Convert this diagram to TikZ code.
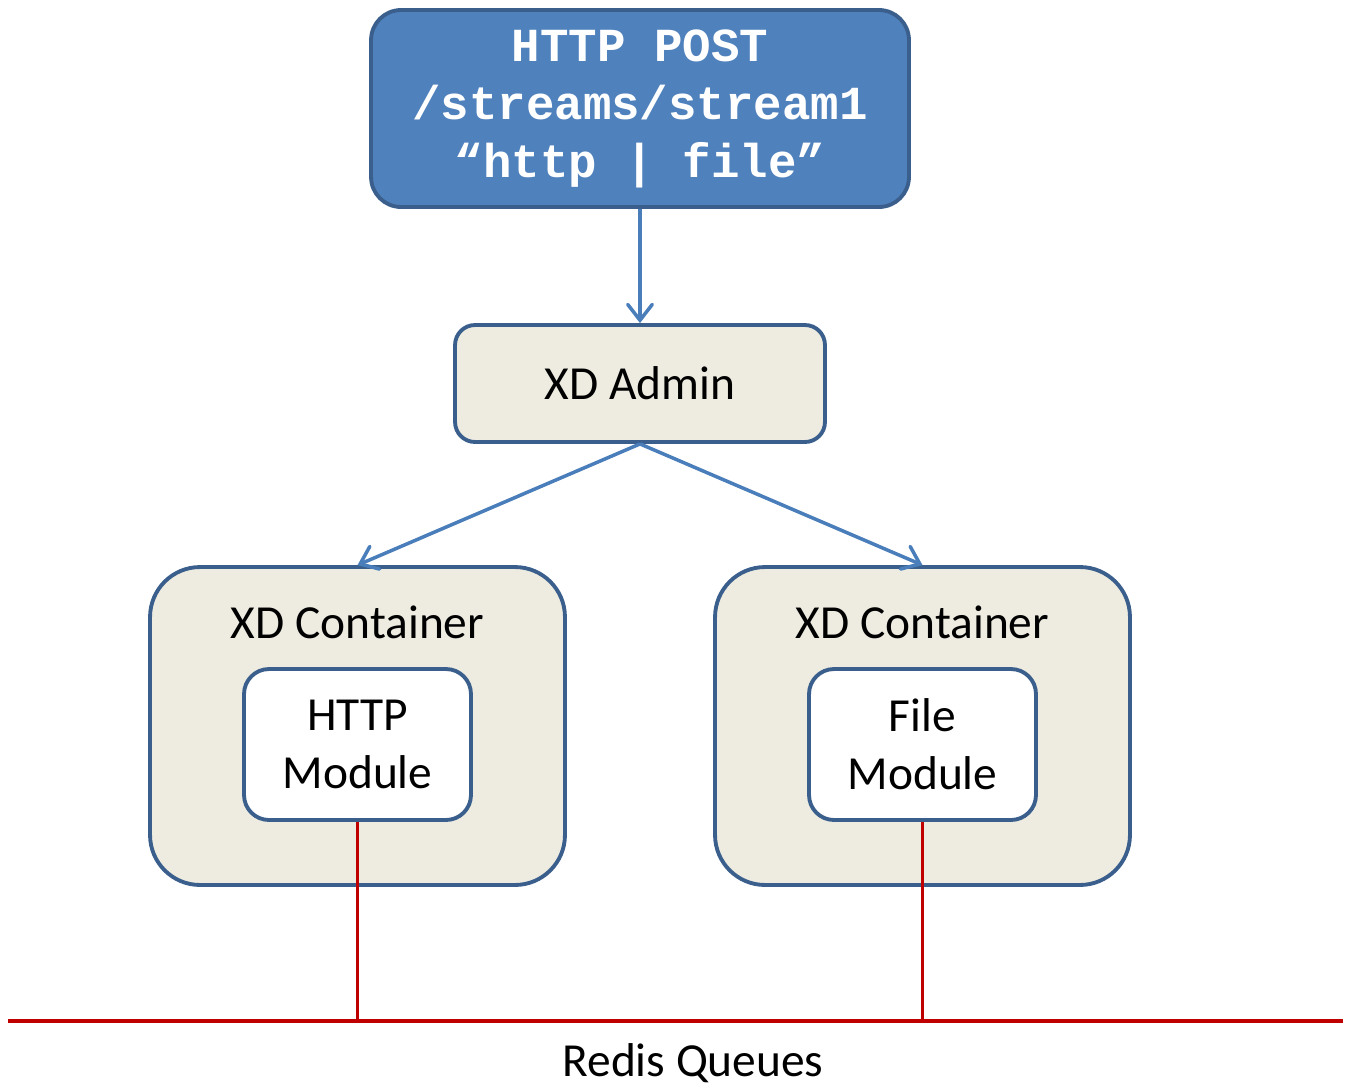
\documentclass[tikz,border=0pt]{standalone}
\usepackage{fontspec}
\setmainfont{Carlito}
\newfontfamily\codefont{Liberation Mono}
\usetikzlibrary{positioning,
        arrows.meta}
\definecolor{postblue}{HTML}{4F81BD}
\definecolor{edgeblue}{HTML}{3A5F8C}
\definecolor{arrowblue}{HTML}{4A7EBB}
\definecolor{boxbeige}{HTML}{EEECE1}
\definecolor{redisred}{HTML}{C00000}

\begin{document}
\begin{tikzpicture}[x=0.02cm,y=-0.02cm,
    request/.style={rectangle,rounded corners=0.6cm,draw=edgeblue,line width=2.2pt,fill=postblue,
        text=white,align=center,minimum width=10.76cm,minimum height=3.94cm,
        font=\codefont\bfseries\fontsize{27}{33}\selectfont},
    admin/.style={rectangle,rounded corners=0.4cm,draw=edgeblue,line width=2.2pt,fill=boxbeige,
        minimum width=7.4cm,minimum height=2.34cm,font=\fontsize{27}{33}\selectfont},
    container/.style={rectangle,rounded corners=1cm,draw=edgeblue,line width=2.2pt,fill=boxbeige,
        minimum width=8.3cm,minimum height=6.36cm},
    module/.style={rectangle,rounded corners=0.5cm,draw=edgeblue,line width=2.2pt,fill=white,
        align=center,minimum width=4.54cm,minimum height=3.02cm,font=\fontsize{27}{33}\selectfont},
    title/.style={font=\fontsize{27}{33}\selectfont,inner sep=0pt},
    flow/.style={draw=arrowblue,line width=2pt,-{Straight Barb[length=9pt,width=14pt,line cap=round]}},
    queue/.style={draw=redisred,line width=2pt}]
    \useasboundingbox (0,0) rectangle (1355,1086);

    \node [request] (post) at (640,108.5) {HTTP POST\\/streams/stream1\\“http | file”};
    \node [admin] (admin) at (640,383.5) {XD Admin};

    \node [container] (contL) at (357.5,726) {};
    \node [container] (contR) at (922.5,726) {};
    \node [title] (titleL) at (357.5,622) {XD Container};
    \node [title] (titleR) at (922.5,622) {XD Container};
    \node [module] (modL) at (357.5,744.5) {HTTP\\Module};
    \node [module] (modR) at (922.5,744.5) {File\\Module};

    \coordinate (busW) at (8,1021);
    \coordinate (busE) at (1343,1021);
    \node [title] (redis) at (693,1063) {Redis Queues};

    \draw [flow] (post) -- (admin);
    \draw [flow] (admin.south) -- (contL.north);
    \draw [flow] (admin.south) -- (contR.north);

    \draw [queue] (modL.south) -- (modL.south |- busW);
    \draw [queue] (modR.south) -- (modR.south |- busW);
    \draw [queue,line width=2.6pt] (busW) -- (busE);
\end{tikzpicture}
\end{document}
